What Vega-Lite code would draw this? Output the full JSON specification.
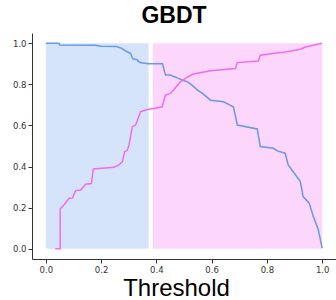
{
"$schema": "https://vega.github.io/schema/vega-lite/v6.json",
"width": 304, "height": 226,
"autosize": "none",
"padding": {"left": 32, "top": 33, "right": 0, "bottom": 41},
"background": "white",
"title": {"text": "GBDT", "fontSize": 23, "fontWeight": "bold", "font": "Liberation Sans", "color": "black", "anchor": "middle", "dx": -10, "offset": 5},
"config": {
  "view": {"stroke": null},
  "axis": {"grid": false, "domainColor": "#333", "tickColor": "#333", "labelColor": "#333", "labelFont": "DejaVu Sans", "labelFontSize": 8.5, "tickSize": 4, "labelPadding": 2, "domainWidth": 1}
},
"datasets": {
  "bands": [
    {"x": 0.0, "x2": 0.372, "y": 0, "y2": 1, "g": "left"},
    {"x": 0.387, "x2": 1.0, "y": 0, "y2": 1, "g": "right"}
  ],
  "blue": [
    {"i":0,"t":0.0,"v":1.0},{"i":1,"t":0.047,"v":1.0},{"i":2,"t":0.05,"v":0.992},{"i":3,"t":0.18,"v":0.99},{"i":4,"t":0.2,"v":0.985},{"i":5,"t":0.256,"v":0.984},{"i":6,"t":0.275,"v":0.975},{"i":7,"t":0.289,"v":0.963},{"i":8,"t":0.307,"v":0.95},{"i":9,"t":0.314,"v":0.925},{"i":10,"t":0.33,"v":0.92},{"i":11,"t":0.336,"v":0.91},{"i":12,"t":0.345,"v":0.905},{"i":13,"t":0.372,"v":0.9},{"i":14,"t":0.422,"v":0.9},{"i":15,"t":0.433,"v":0.845},{"i":16,"t":0.45,"v":0.845},{"i":17,"t":0.47,"v":0.835},{"i":18,"t":0.495,"v":0.82},{"i":19,"t":0.513,"v":0.812},{"i":20,"t":0.53,"v":0.795},{"i":21,"t":0.549,"v":0.772},{"i":22,"t":0.567,"v":0.756},{"i":23,"t":0.596,"v":0.723},{"i":24,"t":0.643,"v":0.715},{"i":25,"t":0.665,"v":0.7},{"i":26,"t":0.679,"v":0.69},{"i":27,"t":0.693,"v":0.602},{"i":28,"t":0.765,"v":0.583},{"i":29,"t":0.776,"v":0.497},{"i":30,"t":0.823,"v":0.489},{"i":31,"t":0.84,"v":0.475},{"i":32,"t":0.866,"v":0.465},{"i":33,"t":0.877,"v":0.408},{"i":34,"t":0.895,"v":0.375},{"i":35,"t":0.921,"v":0.327},{"i":36,"t":0.931,"v":0.254},{"i":37,"t":0.953,"v":0.222},{"i":38,"t":0.968,"v":0.157},{"i":39,"t":0.986,"v":0.092},{"i":40,"t":1.0,"v":0.003}
  ],
  "pink": [
    {"i":0,"t":0.034,"v":0.0},{"i":1,"t":0.052,"v":0.0},{"i":2,"t":0.052,"v":0.193},{"i":3,"t":0.066,"v":0.214},{"i":4,"t":0.084,"v":0.246},{"i":5,"t":0.096,"v":0.247},{"i":6,"t":0.108,"v":0.283},{"i":7,"t":0.126,"v":0.286},{"i":8,"t":0.144,"v":0.314},{"i":9,"t":0.165,"v":0.317},{"i":10,"t":0.172,"v":0.388},{"i":11,"t":0.247,"v":0.397},{"i":12,"t":0.265,"v":0.408},{"i":13,"t":0.277,"v":0.424},{"i":14,"t":0.285,"v":0.472},{"i":15,"t":0.295,"v":0.48},{"i":16,"t":0.301,"v":0.505},{"i":17,"t":0.313,"v":0.594},{"i":18,"t":0.325,"v":0.602},{"i":19,"t":0.343,"v":0.667},{"i":20,"t":0.367,"v":0.678},{"i":21,"t":0.391,"v":0.683},{"i":22,"t":0.421,"v":0.691},{"i":23,"t":0.433,"v":0.748},{"i":24,"t":0.451,"v":0.756},{"i":25,"t":0.487,"v":0.812},{"i":26,"t":0.513,"v":0.836},{"i":27,"t":0.534,"v":0.85},{"i":28,"t":0.596,"v":0.866},{"i":29,"t":0.686,"v":0.877},{"i":30,"t":0.693,"v":0.906},{"i":31,"t":0.769,"v":0.914},{"i":32,"t":0.776,"v":0.942},{"i":33,"t":0.823,"v":0.95},{"i":34,"t":0.866,"v":0.958},{"i":35,"t":0.921,"v":0.971},{"i":36,"t":0.939,"v":0.982},{"i":37,"t":1.0,"v":1.0}
  ]
},
"layer": [
  {
    "data": {"name": "bands"},
    "mark": {"type": "rect"},
    "encoding": {
      "x": {"field": "x", "type": "quantitative", "scale": {"domain": [-0.05, 1.05], "nice": false, "zero": false},
            "axis": {"values": [0, 0.2, 0.4, 0.6, 0.8, 1.0], "format": ".1f", "title": "Threshold", "titleFont": "Liberation Sans", "titleFontSize": 24, "titleFontWeight": "normal", "titleColor": "black", "titleX": 144, "titleY": 36, "titleAlign": "center", "titleBaseline": "alphabetic", "titleAnchor": null}},
      "x2": {"field": "x2"},
      "y": {"field": "y", "type": "quantitative", "scale": {"domain": [-0.05, 1.05], "nice": false, "zero": false},
            "axis": {"values": [0, 0.2, 0.4, 0.6, 0.8, 1.0], "format": ".1f", "title": null}},
      "y2": {"field": "y2"},
      "color": {"field": "g", "type": "nominal", "scale": {"domain": ["left", "right"], "range": ["#d5e3fb", "#fdd6fb"]}, "legend": null}
    }
  },
  {
    "data": {"name": "blue"},
    "mark": {"type": "line", "color": "#6898e6", "strokeWidth": 1.5},
    "encoding": {
      "x": {"field": "t", "type": "quantitative"},
      "y": {"field": "v", "type": "quantitative"},
      "order": {"field": "i", "type": "quantitative"}
    }
  },
  {
    "data": {"name": "pink"},
    "mark": {"type": "line", "color": "#f06cf0", "strokeWidth": 1.5},
    "encoding": {
      "x": {"field": "t", "type": "quantitative"},
      "y": {"field": "v", "type": "quantitative"},
      "order": {"field": "i", "type": "quantitative"}
    }
  }
]
}
